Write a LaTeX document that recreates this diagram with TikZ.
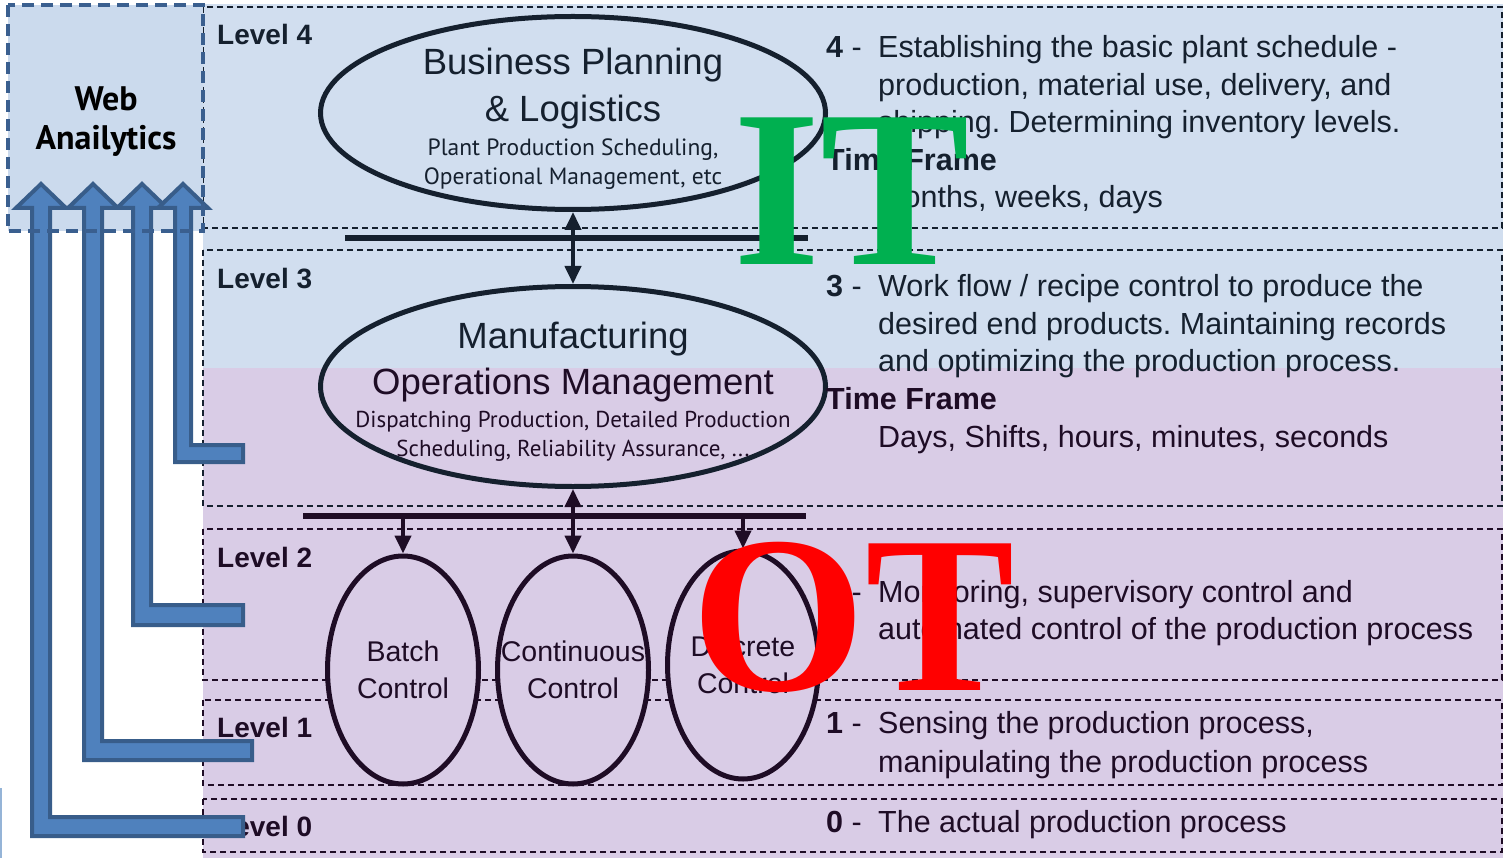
\documentclass[tikz,border=0pt]{standalone}
\usepackage{fontspec}
\setmainfont{Liberation Sans}
\newfontfamily\ptsans{PT Sans}
\newfontfamily\bigserif{Liberation Serif}
\usetikzlibrary{shapes.geometric,arrows.meta}
\frenchspacing

\definecolor{bandblue}{HTML}{D1DEEF}
\definecolor{bandpurple}{HTML}{D9CCE6}
\definecolor{webfill}{HTML}{CBDAED}
\definecolor{webline}{HTML}{3A5F8F}
\definecolor{upfill}{HTML}{4F81BD}
\definecolor{upline}{HTML}{385D8A}
\definecolor{inkb}{HTML}{15202E}
\definecolor{inkp}{HTML}{1E0C25}
\definecolor{itgreen}{HTML}{00B050}

\begin{document}
\begin{tikzpicture}[x=1pt,y=-1pt,
    band/.style={draw=inkb, dash pattern=on 6pt off 4pt, line width=1.5pt},
    lvl/.style={anchor=base west, inner sep=0pt, font=\bfseries\fontsize{28}{34}\selectfont},
    desc/.style={anchor=base west, inner sep=0pt, font=\fontsize{30.5}{37.5}\selectfont},
    bigellipse/.style={draw, ellipse, line width=5pt, minimum width=505pt, inner sep=0pt},
    ellipsetext/.style={align=center, inner sep=0pt, font=\fontsize{36.5}{47}\selectfont},
    ctrl/.style={draw=inkp, fill=bandpurple, ellipse, line width=5pt,
        minimum width=151pt, minimum height=228pt, inner sep=0pt},
    ctrltext/.style={align=center, inner sep=0pt, text=inkp,
        font=\fontsize{28.5}{37}\selectfont},
    bus/.style={line width=6pt},
    link/.style={line width=4pt, >={Triangle[width=16pt,length=18pt]}, <->},
    down/.style={line width=4pt, -{Triangle[width=16pt,length=18pt]}},
    uparrow/.style={fill=upfill, draw=upline, line width=4pt, line join=miter},
    bigletter/.style={anchor=base west, inner sep=0pt,
        font=\bigserif\bfseries\fontsize{224}{224}\selectfont}
]
    \useasboundingbox (0,0) rectangle (1511,858);

    % Background of the levels
    \fill[bandblue] (203,4) rectangle (1503,368);
    \fill[bandpurple] (203,368) rectangle (1503,858);

    % Level bands
    \draw[band] (203,7) rectangle (1502,228);
    \draw[band] (203,250) rectangle (1502,506);
    \draw[band, draw=inkp] (203,529) rectangle (1502,680);
    \draw[band, draw=inkp] (203,700) rectangle (1502,785);
    \draw[band, draw=inkp] (203,799) rectangle (1502,852);

    % Level labels
    \node[lvl, text=inkb] (lv4) at (217,45) {Level 4};
    \node[lvl, text=inkb] (lv3) at (217,289) {Level 3};
    \node[lvl, text=inkp] (lv2) at (217,567) {Level 2};
    \node[lvl, text=inkp] (lv1) at (217,737) {Level 1};
    \node[lvl, text=inkp] (lv0) at (217,836) {Level 0};

    % Ellipse with text
    \node[bigellipse,
        draw=inkb,
        minimum height=193pt] (bp) at (573,113){};
    \node[ellipsetext, text=inkb] (bptext) at (573,119)
        {Business Planning\\ \& Logistics\\[-13pt]
        {\ptsans\fontsize{23.5}{29}\selectfont Plant Production Scheduling,}\\[-18pt]
        {\ptsans\fontsize{23.5}{29}\selectfont Operational Management, etc}};

    % Ellipse with text
    \node[bigellipse,
        draw=inkb,
        minimum height=200pt] (mom) at (573,386.5){};
    \node[ellipsetext, text=inkp] (momtext) at (573,392)
        {{\color{inkb}Manufacturing}\\[-1pt] Operations Management\\[-14pt]
        {\ptsans\fontsize{23}{29}\selectfont Dispatching Production, Detailed Production}\\[-18pt]
        {\ptsans\fontsize{23}{29}\selectfont Scheduling, Reliability Assurance, ...}};

    % Control ellipses with text
    \node[ctrl] (batch) at (403,670) {};
    \node[ctrl] (cont) at (573,670) {};
    \node[ctrl] (disc) at (743,665) {};
    \node[ctrltext] (batchtext) at (batch) {Batch\\Control};
    \node[ctrltext] (conttext) at (cont) {Continuous\\Control};
    \node[ctrltext] (disctext) at (disc) {Discrete\\Control};

    % Buses and links
    \coordinate (bus1w) at (345,238);
    \coordinate (bus1e) at (808,238);
    \coordinate (bus2w) at (303,516);
    \coordinate (bus2e) at (806,516);
    \draw[bus, inkb] (bus1w) -- (bus1e);
    \draw[bus, inkp] (bus2w) -- (bus2e);
    \draw[link, inkb] (bp.south) -- (mom.north);
    \draw[link, inkp] (mom.south) -- (cont.north);
    \draw[down, inkp] (batch.north |- bus2w) -- (batch.north);
    \draw[down, inkp] (disc.north |- bus2w) -- (disc.north);

    % Level descriptions
    \node[desc, text=inkb] (d4) at (826,58) {\begin{tabular}[t]{@{}p{52pt}@{}l@{}}
        \textbf{4} - & Establishing the basic plant schedule -\\
        & production, material use, delivery, and\\
        & shipping. Determining inventory levels.\\
        \multicolumn{2}{@{}l@{}}{\textbf{Time Frame}}\\
        & Months, weeks, days
        \end{tabular}};
    \node[desc, text=inkb] (d3) at (826,297) {\begin{tabular}[t]{@{}p{52pt}@{}l@{}}
        \textbf{3} - & Work flow / recipe control to produce the\\
        & desired end products. Maintaining records\\
        & and optimizing the production process.\\
        \multicolumn{2}{@{}l@{}}{\color{inkp}\textbf{Time Frame}}\\
        & \color{inkp}Days, Shifts, hours, minutes, seconds
        \end{tabular}};
    \node[desc, text=inkp] (d2) at (826,602) {\begin{tabular}[t]{@{}p{52pt}@{}l@{}}
        \textbf{2} - & Monitoring, supervisory control and\\
        & automated control of the production process
        \end{tabular}};
    \node[desc, text=inkp] (d1) at (826,733) {\begin{tabular}[t]{@{}p{52pt}@{}l@{}}
        \textbf{1} - & Sensing the production process,\\[1.5pt]
        & manipulating the production process
        \end{tabular}};
    \node[desc, text=inkp] (d0) at (826,832) {\begin{tabular}[t]{@{}p{52pt}@{}l@{}}
        \textbf{0} - & The actual production process
        \end{tabular}};

    % Web analytics box
    \node[fill=webfill,
        minimum width=195pt,
        minimum height=226pt,
        inner sep=0pt] (web) at (105.5,118){};
    \node[align=center,
        inner sep=0pt,
        text=black,
        font=\ptsans\bfseries\fontsize{34}{39}\selectfont] (webtext) at (106,122){Web\\Anailytics};

    % Arrows from the levels up to the box
    \draw[uparrow] (32,836) -- (243,836) -- (243,817) -- (50,817) -- (50,208)
        -- (66,208) -- (41,184) -- (16,208) -- (32,208) -- cycle;
    \draw[uparrow] (84,760) -- (252,760) -- (252,741) -- (102,741) -- (102,208)
        -- (118,208) -- (93,184) -- (68,208) -- (84,208) -- cycle;
    \draw[uparrow] (133,625) -- (243,625) -- (243,605) -- (151,605) -- (151,208)
        -- (167,208) -- (142,184) -- (117,208) -- (133,208) -- cycle;
    \draw[uparrow] (175,462) -- (243,462) -- (243,445) -- (191,445) -- (191,208)
        -- (208,208) -- (183,184) -- (158,208) -- (175,208) -- cycle;
    \draw[upfill!60, line width=1.5pt] (1,788) -- (1,858);

    % Box border over the arrows
    \draw[webline, line width=4pt, dash pattern=on 12pt off 7pt]
        (web.north west) rectangle (web.south east);

    % IT and OT
    \node[bigletter, text=itgreen] (it) at (733,265) {IT};
    \node[bigletter, text=red] (ot) at (691,690) {OT};

\end{tikzpicture}
\end{document}
